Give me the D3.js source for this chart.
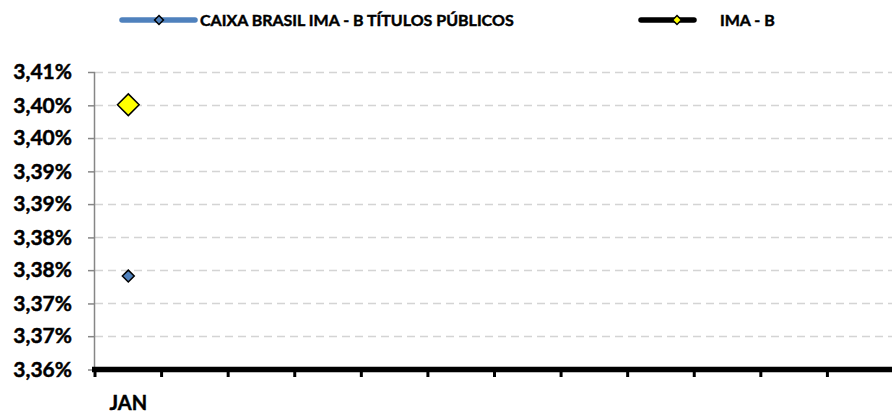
<!DOCTYPE html>
<html>
<head>
<meta charset="utf-8">
<script src="https://cdn.jsdelivr.net/npm/d3@7"></script>
<style>
  html, body { margin: 0; padding: 0; background: #fff; }
  svg { display: block; font-family: Lato, "Open Sans", sans-serif; font-weight: bold; }
  svg text { stroke: #000; stroke-width: 0.45px; }
</style>
</head>
<body>
<svg id="chart" width="892" height="414"></svg>
<script>
// //////// DATA

const months = ["JAN", "", "", "", "", "", "", "", "", "", "", ""];
const caixaValues = [3.3757];
const imabValues = [3.4045];
const yTicks = [3.36, 3.3656, 3.3711, 3.3767, 3.3822, 3.3878, 3.3933, 3.3989, 3.4044, 3.41];
const seriesNames = ["CAIXA BRASIL IMA - B TÍTULOS PÚBLICOS", "IMA - B"];

// //////// SETUP

const FONT = "Lato, 'Open Sans', sans-serif";
const svg = d3.select("#chart");
const plot = { left: 95, right: 894, top: 72, bottom: 369.5 };

const x = d3.scaleBand().domain(d3.range(months.length)).range([plot.left, plot.right]);
const y = d3.scaleLinear().domain([3.36, 3.41]).range([plot.bottom, plot.top]);

const fmt = (v) => v.toFixed(2).replace(".", ",") + "%";

// Gridlines (dashed)
svg.append("g")
  .selectAll("line")
  .data(yTicks.slice(1))
  .join("line")
  .attr("x1", plot.left)
  .attr("x2", plot.right)
  .attr("y1", (d) => Math.round(y(d)) + 0.5)
  .attr("y2", (d) => Math.round(y(d)) + 0.5)
  .attr("stroke", "#d4d4d4")
  .attr("stroke-width", 1.5)
  .attr("stroke-dasharray", "8,5");

// Y axis
const yAxis = svg.append("g")
  .attr("transform", `translate(${plot.left},0)`)
  .call(d3.axisLeft(y).tickValues(yTicks).tickSize(7).tickFormat(fmt));
yAxis.attr("font-family", FONT).attr("font-size", 21);
yAxis.select(".domain").attr("stroke", "#868686").attr("stroke-width", 1.5)
  .attr("d", `M-0.5,${plot.top}V${plot.bottom}`);
yAxis.selectAll(".tick line").attr("stroke", "#868686").attr("stroke-width", 1.5);
yAxis.selectAll(".tick text")
  .attr("x", -23)
  .attr("fill", "#000");

// X axis
const xAxis = svg.append("g")
  .attr("transform", `translate(0,${plot.bottom})`);
xAxis.append("line")
  .attr("x1", plot.left - 3)
  .attr("x2", plot.right)
  .attr("stroke", "#000")
  .attr("stroke-width", 5.5);
xAxis.selectAll("line.tick")
  .data(d3.range(months.length))
  .join("line")
  .attr("class", "tick")
  .attr("x1", (d) => x(d))
  .attr("x2", (d) => x(d))
  .attr("y1", 0)
  .attr("y2", 7.5)
  .attr("stroke", "#000")
  .attr("stroke-width", 3);
xAxis.selectAll("text")
  .data(months)
  .join("text")
  .attr("x", (d, i) => x(i) + x.bandwidth() / 2)
  .attr("y", 40)
  .attr("text-anchor", "middle")
  .attr("font-size", 20)
  .text((d) => d);

// Markers
function diamond(size) {
  return d3.symbol().type(d3.symbolDiamond2).size(size)();
}

svg.append("g")
  .selectAll("path")
  .data(caixaValues)
  .join("path")
  .attr("d", diamond(90))
  .attr("transform", (d, i) => `translate(${x(i) + x.bandwidth() / 2},${y(d)})`)
  .attr("fill", "#4f81bd")
  .attr("stroke", "#000")
  .attr("stroke-width", 1.5);

svg.append("g")
  .selectAll("path")
  .data(imabValues)
  .join("path")
  .attr("d", diamond(300))
  .attr("transform", (d, i) => `translate(${x(i) + x.bandwidth() / 2},${y(d)})`)
  .attr("fill", "#ffff00")
  .attr("stroke", "#000")
  .attr("stroke-width", 1.5);

// Legend
const legend = svg.append("g").attr("font-size", 16);
const legendItems = [
  { name: seriesNames[0], x1: 122, x2: 195, mx: 159, line: "#4f81bd", fill: "#4f81bd", tx: 200 },
  { name: seriesNames[1], x1: 641, x2: 694, mx: 677, line: "#000", fill: "#ffff00", tx: 720 },
];
legendItems.forEach((d) => {
  legend.append("line")
    .attr("x1", d.x1).attr("x2", d.x2)
    .attr("y1", 20).attr("y2", 20)
    .attr("stroke", d.line)
    .attr("stroke-width", 5.5)
    .attr("stroke-linecap", "round");
  legend.append("path")
    .attr("d", diamond(50))
    .attr("transform", `translate(${d.mx},20)`)
    .attr("fill", d.fill)
    .attr("stroke", "#000")
    .attr("stroke-width", 1.5);
  legend.append("text")
    .attr("x", d.tx)
    .attr("y", 20)
    .attr("dy", "0.36em")
    .text(d.name);
});
</script>
</body>
</html>
